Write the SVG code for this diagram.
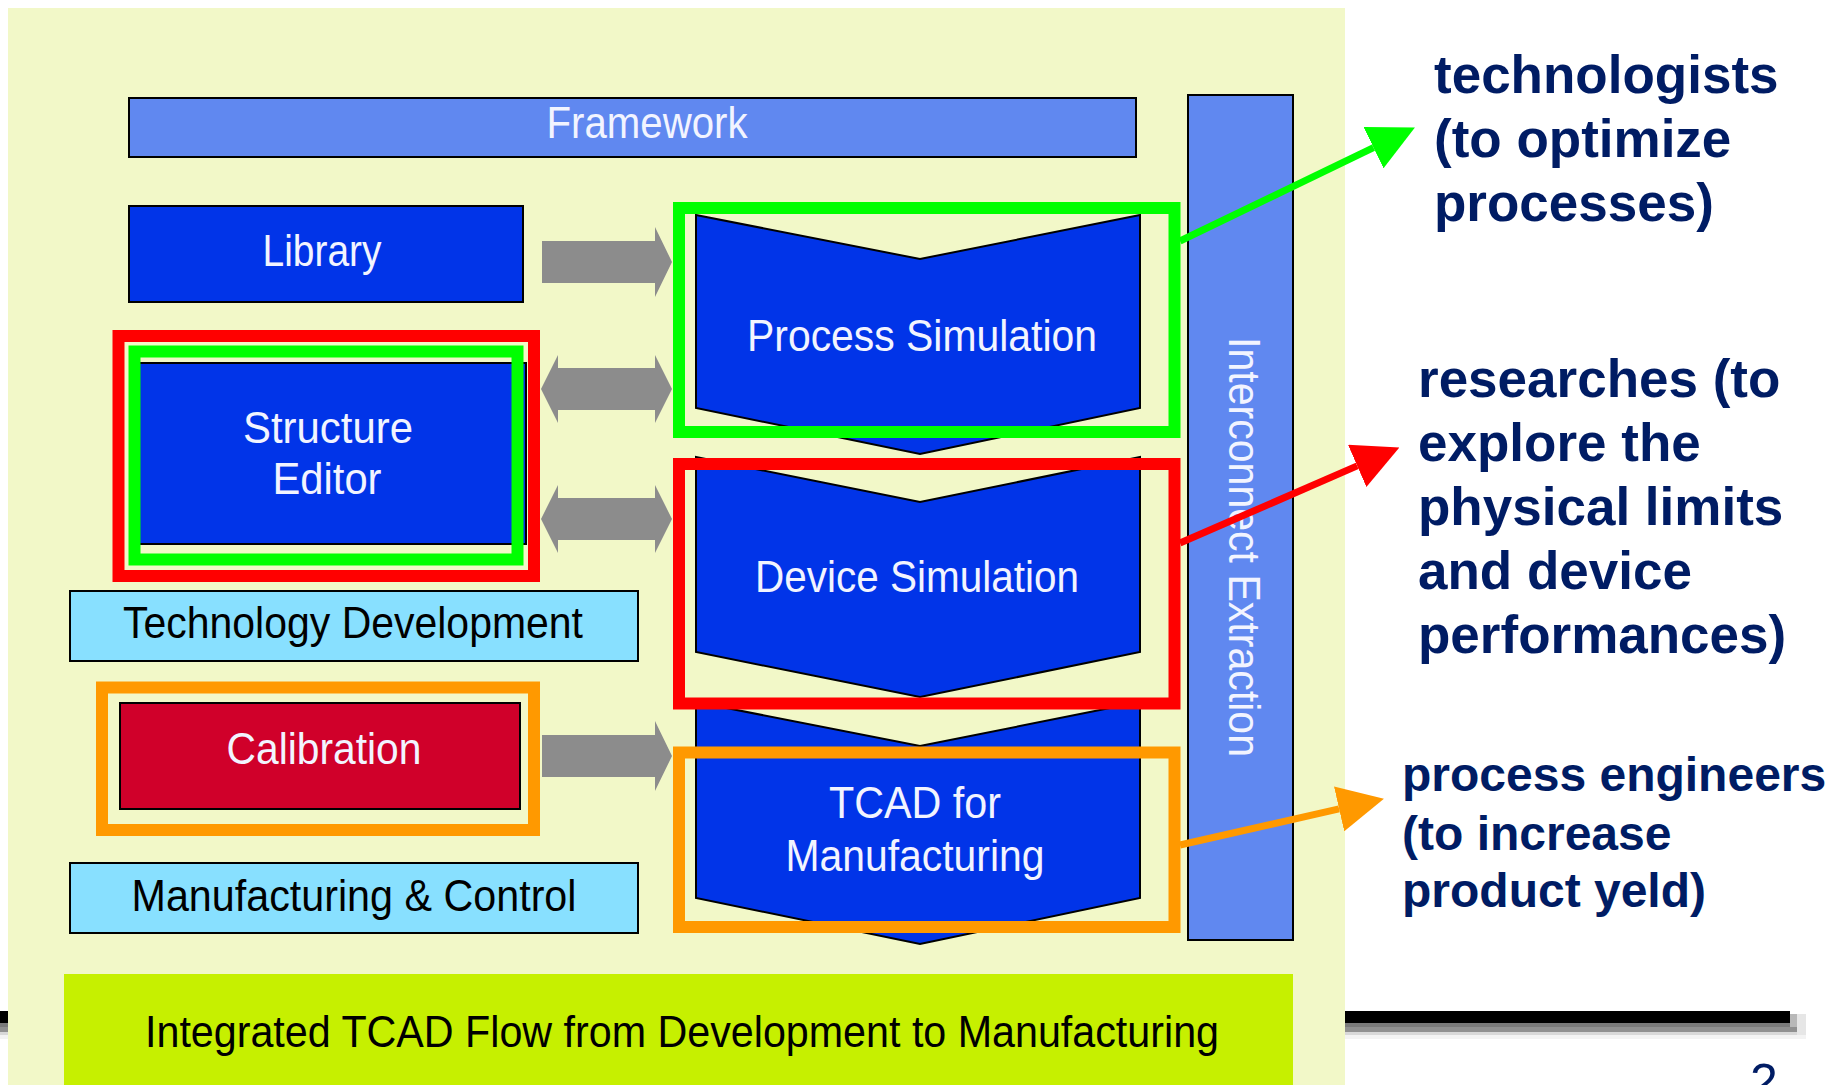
<svg xmlns="http://www.w3.org/2000/svg" xmlns:xlink="http://www.w3.org/1999/xlink" width="1832" height="1085" viewBox="0 0 1832 1085">
<defs>
<style>
.lbl{font-family:"Liberation Sans",Arial,Helvetica,sans-serif;font-size:44px;text-anchor:middle}
.wt{fill:#f2f4ff}
.bk{fill:#000}
.side{font-family:"Liberation Sans",Arial,Helvetica,sans-serif;font-weight:bold;fill:#001c64}
.box{stroke:#000;stroke-width:2}
.blue{fill:#0134e8}
.lblue{fill:#6088f0}
.cyan{fill:#88e0ff}
.hl{fill:none;stroke-width:12}
.garrow{fill:#8c8c8c}
.ptr{fill:none;stroke-width:7}
</style>
<path id="single" d="M542,-21 H655 V-35 L672,0 L655,35 V21 H542 Z"/>
<path id="double" d="M541,0 L558,-34 V-21 H655 V-34 L672,0 L655,34 V21 H558 V34 Z"/>
<marker id="mg" markerUnits="userSpaceOnUse" markerWidth="46" markerHeight="46" refX="0" refY="23" orient="auto"><path d="M0,0 L46,23 L0,46 Z" fill="#00ff00"/></marker>
<marker id="mr" markerUnits="userSpaceOnUse" markerWidth="46" markerHeight="46" refX="0" refY="23" orient="auto"><path d="M0,0 L46,23 L0,46 Z" fill="#ff0000"/></marker>
<marker id="mo" markerUnits="userSpaceOnUse" markerWidth="46" markerHeight="46" refX="0" refY="23" orient="auto"><path d="M0,0 L46,23 L0,46 Z" fill="#ff9900"/></marker>
</defs>
<rect x="0" y="0" width="1832" height="1085" fill="#ffffff"/>
<!-- horizontal slide rule with shadow -->
<g id="rule">
<rect x="0" y="1023" width="1797" height="4" fill="#7a7a7a"/>
<rect x="0" y="1027" width="1800" height="5" fill="#909090"/>
<rect x="0" y="1032" width="1803" height="3" fill="#d8d8d8"/>
<rect x="0" y="1035" width="1806" height="4" fill="#f3f3f3"/>
<rect x="1790" y="1014" width="7" height="13" fill="#b8b8b8"/>
<rect x="1797" y="1014" width="9" height="21" fill="#e6e6e6"/>
<rect x="0" y="1011" width="1790" height="12" fill="#000"/>
</g>
<rect id="panel" x="8" y="8" width="1337" height="1077" fill="#f2f8c8"/>
<g id="framework"><rect class="box lblue" x="129" y="98" width="1007" height="59"/><text class="lbl wt" x="647" y="138" textLength="201" lengthAdjust="spacingAndGlyphs">Framework</text></g>
<g id="interconnect"><rect class="box lblue" x="1188" y="95" width="105" height="845"/><text class="lbl wt" transform="translate(1229,547) rotate(90)" x="0" y="0" textLength="420" lengthAdjust="spacingAndGlyphs">Interconnect Extraction</text></g>
<g id="library"><rect class="box blue" x="129" y="206" width="394" height="96"/><text class="lbl wt" x="322" y="266" textLength="119" lengthAdjust="spacingAndGlyphs">Library</text></g>
<g id="structure-editor"><rect class="box blue" x="130" y="363" width="396" height="181"/><text class="lbl wt" x="328" y="443" textLength="170" lengthAdjust="spacingAndGlyphs">Structure</text><text class="lbl wt" x="327" y="494" textLength="109" lengthAdjust="spacingAndGlyphs">Editor</text></g>
<g id="technology-development"><rect class="box cyan" x="70" y="591" width="568" height="70"/><text class="lbl bk" x="353" y="638" textLength="460" lengthAdjust="spacingAndGlyphs">Technology Development</text></g>
<g id="calibration"><rect class="box" fill="#d0002a" x="120" y="703" width="400" height="106"/><text class="lbl wt" x="324" y="764" textLength="195" lengthAdjust="spacingAndGlyphs">Calibration</text></g>
<g id="manufacturing-control"><rect class="box cyan" x="70" y="863" width="568" height="70"/><text class="lbl bk" x="354" y="911" textLength="445" lengthAdjust="spacingAndGlyphs">Manufacturing &amp; Control</text></g>
<g id="integrated-flow"><rect x="64" y="974" width="1229" height="111" fill="#c6f000"/><text class="lbl bk" x="682" y="1047" textLength="1074" lengthAdjust="spacingAndGlyphs">Integrated TCAD Flow from Development to Manufacturing</text></g>
<g id="process-simulation"><polygon class="box blue" points="696,215 920,259 1140,215 1140,408 920,454 696,408"/><text class="lbl wt" x="922" y="351" textLength="350" lengthAdjust="spacingAndGlyphs">Process Simulation</text></g>
<g id="device-simulation"><polygon class="box blue" points="696,457 920,502 1140,457 1140,652 920,697 696,652"/><text class="lbl wt" x="917" y="592" textLength="324" lengthAdjust="spacingAndGlyphs">Device Simulation</text></g>
<g id="tcad-manufacturing"><polygon class="box blue" points="696,702 920,746 1140,702 1140,898 920,944 696,898"/><text class="lbl wt" x="915" y="818" textLength="172" lengthAdjust="spacingAndGlyphs">TCAD for</text><text class="lbl wt" x="915" y="871" textLength="259" lengthAdjust="spacingAndGlyphs">Manufacturing</text></g>
<g id="connectors">
<use href="#single" class="garrow" transform="translate(0,262)"/>
<use href="#double" class="garrow" transform="translate(0,389)"/>
<use href="#double" class="garrow" transform="translate(0,519)"/>
<use href="#single" class="garrow" transform="translate(0,756)"/>
<rect class="hl" stroke="#ff0000" x="118.5" y="336" width="415.5" height="240"/>
<rect class="hl" stroke="#00ff00" x="134.5" y="351.5" width="383" height="208"/>
<rect class="hl" stroke="#ff9900" x="102" y="687.5" width="432" height="142.5"/>
<rect class="hl" stroke="#00ff00" x="679" y="208" width="495.5" height="224"/>
<rect class="hl" stroke="#ff0000" x="679" y="464" width="495.5" height="239.5"/>
<rect class="hl" stroke="#ff9900" x="679" y="752.5" width="495.5" height="174.5"/>
<line class="ptr" stroke="#00ff00" x1="1180" y1="241" x2="1373.5" y2="147.6" marker-end="url(#mg)"/>
<line class="ptr" stroke="#ff0000" x1="1180" y1="543" x2="1357.2" y2="465.9" marker-end="url(#mr)"/>
<line class="ptr" stroke="#ff9900" x1="1180" y1="845" x2="1339.1" y2="808.9" marker-end="url(#mo)"/>
</g>
<g id="technologists" class="side" font-size="53">
<text x="1434" y="93">technologists</text>
<text x="1434" y="157">(to optimize</text>
<text x="1434" y="221">processes)</text>
</g>
<g id="researches" class="side" font-size="53">
<text x="1418" y="397">researches (to</text>
<text x="1418" y="461">explore the</text>
<text x="1418" y="525">physical limits</text>
<text x="1418" y="589">and device</text>
<text x="1418" y="653">performances)</text>
</g>
<g id="process-engineers" class="side" font-size="48">
<text x="1402" y="791">process engineers</text>
<text x="1402" y="850">(to increase</text>
<text x="1402" y="907">product yeld)</text>
</g>
<text x="1750" y="1099" font-family="'Liberation Sans',Arial,sans-serif" font-size="50" fill="#001c64">2</text>
</svg>
